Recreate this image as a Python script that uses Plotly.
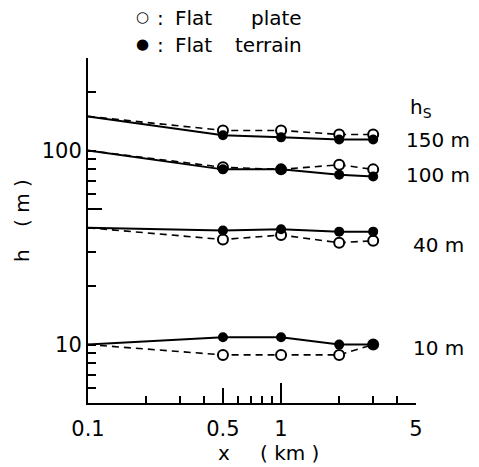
import math
import plotly.graph_objects as go

# ---- data ----
x_km = [0.1, 0.5, 1, 2, 3]
plate_150 = [150, 127, 127, 121, 121]
terrain_150 = [150, 120, 117, 114, 114]
plate_100 = [100, 82, 80, 84.5, 80]
terrain_100 = [100, 80, 80, 75, 73.5]
plate_40 = [40, 34.8, 36.7, 33.5, 34.3]
terrain_40 = [40, 38.7, 39.3, 38.2, 38.2]
plate_10 = [10, 8.85, 8.85, 8.85, 10]
terrain_10 = [10, 10.9, 10.9, 10, 10]

x_major = [0.1, 0.5, 1, 5]
x_major_text = ["0.1", "0.5", "1", "5"]
x_minor = [0.2, 0.3, 0.4, 0.6, 0.7, 0.8, 0.9, 2, 3, 4]
y_major = [10, 100]
y_major_text = ["10", "100"]
y_long = [50, 300]
y_minor = [6, 7, 8, 9, 20, 30, 40, 60, 70, 80, 90, 200]
stack_labels = ["150 m", "100 m", "40 m", "10 m"]

W, H = 479, 467
L, R, T, B = 88, 63, 58, 64
FONT = "DejaVu Sans"


def paper(px, py):
    return (px - L) / (W - L - R), (H - B - py) / (H - T - B)


fig = go.Figure()
opac = [0, 1, 1, 1, 1]


def add_pair(plate, terrain, xa="x", ya="y"):
    fig.add_trace(go.Scatter(
        x=x_km, y=plate, mode="lines+markers", xaxis=xa, yaxis=ya,
        line=dict(color="black", width=1.6, dash="7px,5px"),
        marker=dict(symbol="circle", size=10, color="white", opacity=opac,
                    line=dict(color="black", width=2)),
        cliponaxis=False, showlegend=False, hoverinfo="skip"))
    fig.add_trace(go.Scatter(
        x=x_km, y=terrain, mode="lines+markers", xaxis=xa, yaxis=ya,
        line=dict(color="black", width=2),
        marker=dict(symbol="circle", size=10, color="black", opacity=opac),
        cliponaxis=False, showlegend=False, hoverinfo="skip"))


add_pair(plate_150, terrain_150)
add_pair(plate_100, terrain_100)
add_pair(plate_40, terrain_40)
add_pair(plate_10, terrain_10, xa="x2", ya="y2")

xr = [math.log10(0.1), math.log10(5)]
yr = [math.log10(5), math.log10(300)]
tickfont = dict(family=FONT, size=21, color="black")

fig.update_layout(
    width=W, height=H, margin=dict(l=L, r=R, t=T, b=B),
    paper_bgcolor="white", plot_bgcolor="white",
    xaxis=dict(type="log", range=xr, showgrid=False, zeroline=False,
               showline=True, linecolor="black", linewidth=2,
               ticks="inside", tickvals=x_major, ticktext=x_major_text,
               ticklen=15, tickwidth=2, tickcolor="black", tickfont=tickfont,
               ticklabelstandoff=6,
               minor=dict(tickmode="array", tickvals=x_minor, ticks="inside",
                          ticklen=7, tickwidth=1.5, tickcolor="black", showgrid=False)),
    xaxis2=dict(type="log", range=xr, overlaying="x", anchor="y2", side="bottom",
                showgrid=False, zeroline=False, showline=False,
                ticks="inside", tickvals=[1], ticklen=20, tickwidth=2,
                tickcolor="black", showticklabels=False),
    yaxis=dict(type="log", range=yr, showgrid=False, zeroline=False,
               showline=True, linecolor="black", linewidth=2,
               ticks="inside", tickvals=y_major, ticktext=y_major_text,
               ticklen=8, tickwidth=2, tickcolor="black", tickfont=tickfont,
               minor=dict(tickmode="array", tickvals=y_minor, ticks="inside",
                          ticklen=8, tickwidth=1.5, tickcolor="black", showgrid=False)),
    yaxis2=dict(type="log", range=yr, overlaying="y", anchor="x2", side="left",
                showgrid=False, zeroline=False, showline=False,
                ticks="inside", tickvals=y_long, ticklen=14, tickwidth=2,
                tickcolor="black", showticklabels=False),
)


def ann(text, px, py, size=20, xanchor="left", angle=0):
    ax, ay = paper(px, py)
    fig.add_annotation(text=text, x=ax, y=ay, xref="paper", yref="paper",
                       showarrow=False, xanchor=xanchor, yanchor="middle",
                       textangle=angle,
                       font=dict(family=FONT, size=size, color="black"))


# legend-like key
ann("○", 142, 17, size=15, xanchor="center")
ann(":", 160, 18, xanchor="center")
ann("Flat", 173, 18)
ann("plate", 249, 18)
ann("●", 142, 44, size=15, xanchor="center")
ann(":", 160, 45, xanchor="center")
ann("Flat", 173, 45)
ann("terrain", 233, 45)

# right-hand labels
ann("h<sub>S</sub>", 408, 108)
ann(stack_labels[0], 404, 140)
ann(stack_labels[1], 404, 175)
ann(stack_labels[2], 411, 245)
ann(stack_labels[3], 411, 348)

# axis titles
ann("x", 224, 453, xanchor="center")
ann("(\u00a0km\u00a0)", 289, 453, xanchor="center")
ann("h", 22, 256, xanchor="center", angle=-90)
ann("(\u00a0m\u00a0)", 22, 203, xanchor="center", angle=-90)

fig.write_html("out.html", post_script="document.body.style.margin='0';",
               config={"displayModeBar": False})
